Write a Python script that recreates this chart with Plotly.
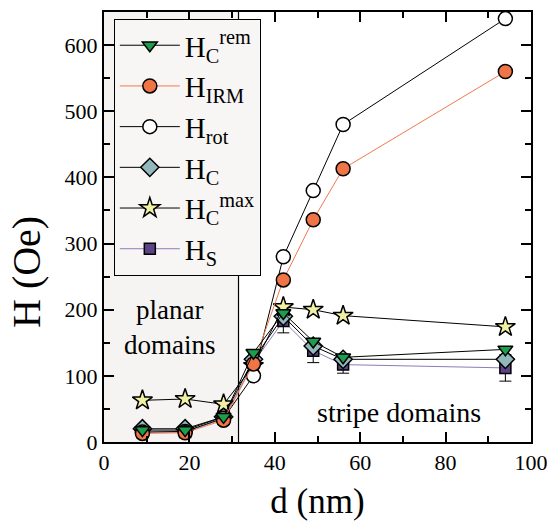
import plotly.graph_objects as go

d = [9, 19, 28, 35, 42, 49, 56, 94]
H_crem = [18, 18, 38, 135, 195, 152, 128, 140]
H_irm = [13, 14, 33, 118, 245, 336, 413, 560]
H_rot = [15, 16, 36, 100, 280, 380, 480, 640]
H_c = [20, 20, 38, 125, 190, 145, 125, 125]
H_cmax = [63, 65, 57, 115, 204, 200, 191, 174]
H_s = [15, 15, 35, 120, 183, 138, 117, 112]
H_s_err = [0, 0, 0, 0, 18, 18, 13, 20]

FONT = "Liberation Serif, Times New Roman, serif"
fig = go.Figure()

def add(y, name, color, lcolor, symbol, size, rank, err=None):
    fig.add_trace(go.Scatter(
        x=d, y=y, name=name, mode="lines+markers", legendrank=rank,
        line=dict(color=lcolor, width=1),
        marker=dict(symbol=symbol, size=size, color=color, line=dict(color="black", width=1.5)),
        error_y=dict(type="data", array=err, color="black", thickness=1, width=6) if err else None,
    ))

add(H_s, "H<sub>S</sub>", "#5c4486", "#8f7bb8", "square", 11, 6, H_s_err)
add(H_c, "H<sub>C</sub>", "#93b8bc", "black", "diamond", 14, 4)
add(H_cmax, "H<sub>C</sub><sup>max</sup>", "#f1f1a6", "black", "star", 15, 5)
add(H_rot, "H<sub>rot</sub>", "white", "black", "circle", 14, 3)
add(H_irm, "H<sub>IRM</sub>", "#ef7446", "#f27a4e", "circle", 14, 2)
add(H_crem, "H<sub>C</sub><sup>rem</sup>", "#1d9e4c", "black", "triangle-down", 13, 1)

fig.add_shape(type="rect", xref="x", yref="y", x0=0, x1=31.5, y0=0, y1=650,
              fillcolor="#f5f4f2", line=dict(width=0), layer="below")
fig.add_shape(type="line", xref="x", yref="y", x0=31.5, x1=31.5, y0=0, y1=650,
              line=dict(color="black", width=1.2), layer="below")

fig.add_annotation(x=15.5, y=173, xref="x", yref="y", text="planar<br>domains",
                   showarrow=False, font=dict(family=FONT, size=27, color="black"))
fig.add_annotation(x=69, y=44, xref="x", yref="y", text="stripe domains",
                   showarrow=False, font=dict(family=FONT, size=28, color="black"))
fig.add_annotation(x=-0.182, y=0.396, xref="paper", yref="paper", text="H (Oe)",
                   textangle=-90, showarrow=False, xanchor="center", yanchor="middle",
                   font=dict(family=FONT, size=40, color="black"))

axis_common = dict(
    showgrid=False, zeroline=False, showline=True, linecolor="black", linewidth=2,
    mirror="allticks", ticks="inside", ticklen=10, tickwidth=1.5, tickcolor="black",
    tickfont=dict(family=FONT, size=22, color="black"),
)
fig.update_xaxes(range=[0, 100], dtick=20, tick0=0,
                 minor=dict(dtick=10, ticks="inside", ticklen=6, tickwidth=1.5, tickcolor="black"),
                 title=dict(text="d (nm)", font=dict(family=FONT, size=35, color="black"), standoff=14),
                 **axis_common)
fig.update_yaxes(range=[0, 650], dtick=100, tick0=0,
                 minor=dict(dtick=50, ticks="inside", ticklen=6, tickwidth=1.5, tickcolor="black"),
                 **axis_common)

fig.update_layout(
    width=558, height=524, margin=dict(l=104, r=19, t=10, b=82),
    plot_bgcolor="white", paper_bgcolor="white",
    legend=dict(x=0.023, y=0.984, xanchor="left", yanchor="top",
                bgcolor="#f7f6f4", bordercolor="black", borderwidth=1,
                font=dict(family=FONT, size=29, color="black"),
                itemwidth=60, tracegroupgap=0),
    showlegend=True,
)
fig.write_html("out.html")
